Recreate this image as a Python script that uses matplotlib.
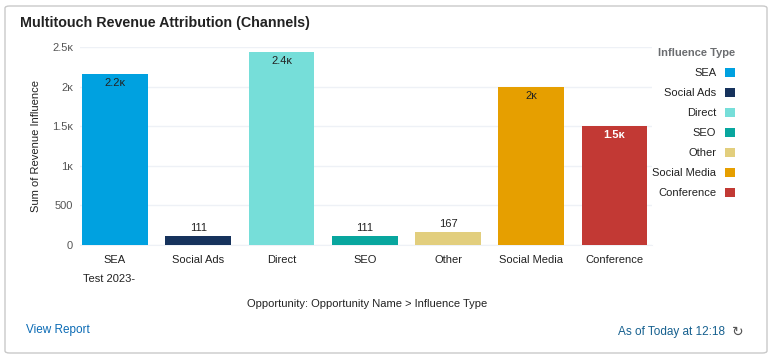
import matplotlib
matplotlib.use("Agg")
import matplotlib.pyplot as plt
from matplotlib.patches import FancyBboxPatch, Patch

plt.rcParams['font.family'] = ['Liberation Sans', 'DejaVu Sans']

channels = ['SEA', 'Social Ads', 'Direct', 'SEO', 'Other', 'Social Media', 'Conference']
revenue = [2160, 111, 2440, 111, 167, 2000, 1500]
yticks = [0, 500, 1000, 1500, 2000, 2500]
group_label = 'Test 2023-'

colors = ['#00a1e0', '#16325c', '#76ded9', '#08a69e', '#e2ce7d', '#e69f00', '#c23934']
label_colors = {'Conference': 'white'}


def fmt(v):
    if v < 1000:
        return str(int(v))
    s = f"{v / 1000:.1f}".rstrip('0').rstrip('.')
    return s + 'ᴋ'


fig = plt.figure(figsize=(7.77, 3.59), dpi=100)

# card background
card = FancyBboxPatch((5 / 777, 6 / 359), 762 / 777, 347 / 359,
                      boxstyle="round,pad=0,rounding_size=0.006",
                      transform=fig.transFigure, facecolor='white',
                      edgecolor='#c9c9c9', linewidth=1.0, zorder=-5)
fig.patches.append(card)

ax = fig.add_axes([80 / 777, 1 - 245 / 359, 572 / 777, 198 / 359])
ax.set_facecolor('none')

x = range(len(channels))
bars = ax.bar(x, revenue, width=0.79, color=colors, zorder=3)

for i, (b, v) in enumerate(zip(bars, revenue)):
    cx = b.get_x() + b.get_width() / 2
    if v > 500:
        c = label_colors.get(channels[i], '#222222')
        w = 'bold' if c == 'white' else 'normal'
        ax.annotate(fmt(v), (cx, v), xytext=(0, -3), textcoords='offset points',
                    ha='center', va='top', fontsize=8, color=c, fontweight=w, zorder=4)
    else:
        ax.annotate(fmt(v), (cx, v), xytext=(0, 2), textcoords='offset points',
                    ha='center', va='bottom', fontsize=8, color='#222222', zorder=4)

ax.set_xlim(-0.42, len(channels) - 0.55)
ax.set_ylim(0, 2500)
ax.set_yticks(yticks)
ax.set_yticklabels([fmt(t) for t in yticks], fontsize=8, color='#555555')
ax.set_xticks(list(x))
ax.set_xticklabels(channels, fontsize=8, color='#222222')
ax.tick_params(axis='both', length=0, pad=5)
ax.tick_params(axis='x', pad=7)
ax.grid(axis='y', color='#eef1f6', linewidth=1, zorder=0)
for s in ['top', 'right', 'left']:
    ax.spines[s].set_visible(False)
ax.spines['bottom'].set_color('#eef1f6')

ax.set_ylabel('Sum of Revenue Influence', fontsize=8, color='#222222', labelpad=8)

fig.text(109 / 777, 1 - 279 / 359, group_label, ha='center', va='center',
         fontsize=8, color='#222222')
fig.text(367 / 777, 1 - 304 / 359, 'Opportunity: Opportunity Name > Influence Type',
         ha='center', va='center', fontsize=8, color='#222222')

fig.text(20 / 777, 1 - 23 / 359, 'Multitouch Revenue Attribution (Channels)',
         ha='left', va='center', fontsize=10.3, fontweight='bold', color='#222222')

fig.text(26 / 777, 1 - 330 / 359, 'View Report', ha='left', va='center',
         fontsize=8.5, color='#0b6bb5')
fig.text(725 / 777, 1 - 332 / 359, 'As of Today at 12:18', ha='right', va='center',
         fontsize=8.5, color='#16608f')
fig.text(738 / 777, 1 - 332 / 359, '↻', ha='center', va='center',
         fontsize=10, color='#555555', family=['DejaVu Sans'])

handles = [Patch(facecolor=c, edgecolor='none') for c in colors]
leg = fig.legend(handles, channels, loc='upper right',
                 bbox_to_anchor=(745 / 777, 1 - 38 / 359),
                 markerfirst=False, frameon=False, fontsize=8,
                 title='Influence Type', handlelength=0.9, handleheight=0.9,
                 handletextpad=0.8, labelspacing=0.86, alignment='right')
leg.get_title().set_color('#6b6d70')
leg.get_title().set_fontsize(8)
leg.get_title().set_fontweight('bold')
for t in leg.get_texts():
    t.set_color('#222222')

fig.savefig('out.png', dpi=100)
